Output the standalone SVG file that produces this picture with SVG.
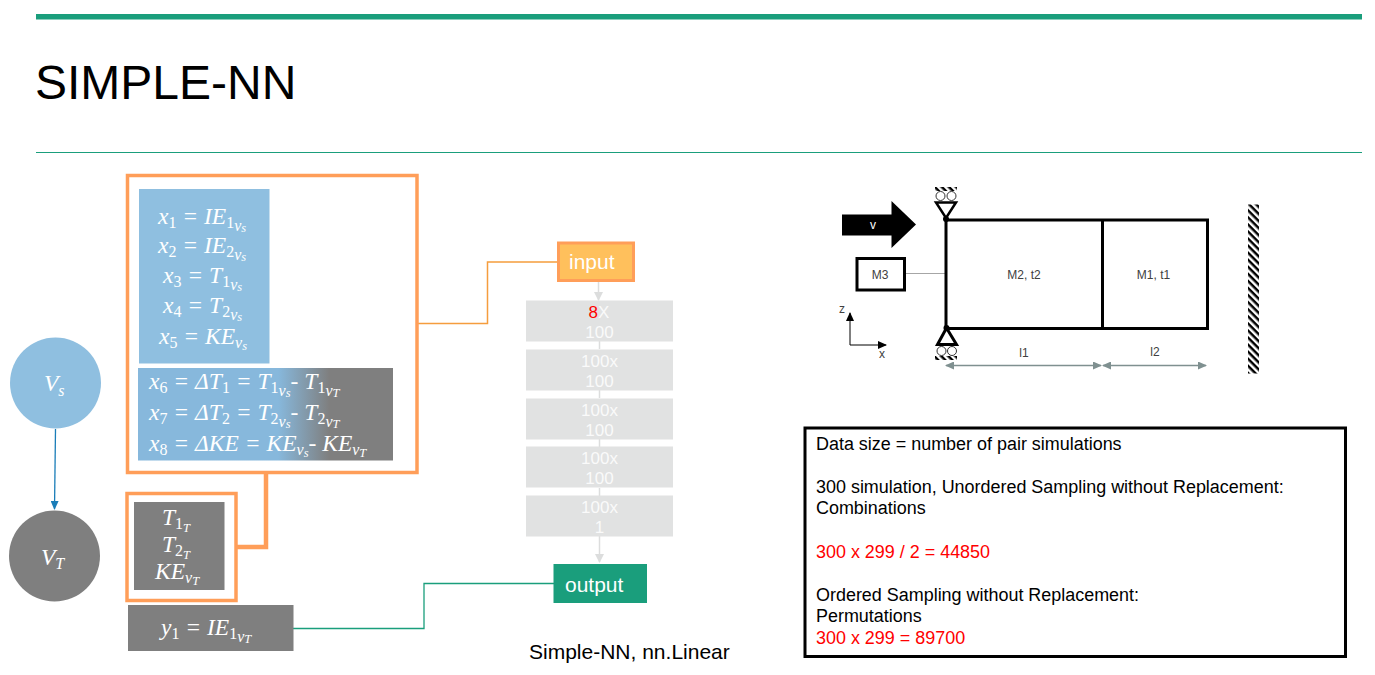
<svg xmlns="http://www.w3.org/2000/svg" width="1375" height="675" viewBox="0 0 1375 675">
<style>
text{font-family:"Liberation Sans",Arial,sans-serif}
.m{font-family:"Liberation Serif","DejaVu Serif",serif;font-style:italic;font-size:23.500px;fill:#fff}
.m tspan.u{font-style:normal}
.s{font-size:16px}
.ss{font-size:12.500px}
.or{fill:none;stroke:#ff9e59;stroke-width:3.5}
.lay{fill:#e1e2e2}
.lt{font-size:17px;fill:#fafafa;text-anchor:middle}
.d{font-size:12px;fill:#404040;text-anchor:middle}
.b{fill:none;stroke:#000;stroke-width:3}
.dim{stroke:#7f9090;stroke-width:1.5;fill:none;marker-start:url(#ds);marker-end:url(#de)}
.t{font-size:17.950px;fill:#000}
.r{fill:#f00}
</style>
<defs>
<linearGradient id="g" x1="0" x2="1" y1="0" y2="0"><stop offset=".55" stop-color="#87b8dc"/><stop offset=".75" stop-color="#7f7f7f"/></linearGradient>
<marker id="ab" markerWidth="9" markerHeight="8" refX="8" refY="4" orient="auto" markerUnits="userSpaceOnUse"><path d="M0 0L9 4L0 8z" fill="#1a7db8"/></marker>
<marker id="ag" markerWidth="9" markerHeight="9" refX="8" refY="4.500" orient="auto" markerUnits="userSpaceOnUse"><path d="M0 0L9 4.500L0 9z" fill="#dcdddd"/></marker>
<marker id="ak" markerWidth="9" markerHeight="8" refX="8" refY="4" orient="auto" markerUnits="userSpaceOnUse"><path d="M0 0L9 4L0 8z" fill="#000"/></marker>
<marker id="de" markerWidth="9" markerHeight="8" refX="8" refY="4" orient="auto" markerUnits="userSpaceOnUse"><path d="M0 0L9 4L0 8z" fill="#7f9090"/></marker>
<marker id="ds" markerWidth="9" markerHeight="8" refX="1" refY="4" orient="auto" markerUnits="userSpaceOnUse"><path d="M9 0L0 4L9 8z" fill="#7f9090"/></marker>
<pattern id="h" width="5" height="5" patternUnits="userSpaceOnUse" patternTransform="rotate(45)"><rect width="5" height="2.500" fill="#000"/></pattern>
</defs>
<g id="header">
<rect x="36" y="14" width="1326" height="5.500" fill="#1a9e7c"/>
<text x="35" y="99" font-size="48" fill="#000">SIMPLE-NN</text>
<rect x="36" y="152" width="1326" height="1" fill="#1a9e7c"/>
</g>
<g id="connectors" fill="none">
<path d="M55.500 429L54.500 509" stroke="#1a7db8" stroke-width="1.300" marker-end="url(#ab)"/>
<path d="M266 473V547H237" stroke="#ff9e59" stroke-width="4.500"/>
<path d="M417 323.500H487.500V262H558" stroke="#f59d3d" stroke-width="1.500"/>
<path d="M293 628.500H424V583.500H554" stroke="#1a9e7c" stroke-width="1.300"/>
<path d="M598.500 281V300" stroke="#dcdddd" stroke-width="1.500" marker-end="url(#ag)"/>
<path d="M599.500 341V349M599.500 390V398M599.500 439V447M599.500 488V496" stroke="#dcdddd" stroke-width="1.500"/>
<path d="M599.500 536V562" stroke="#dcdddd" stroke-width="1.500" marker-end="url(#ag)"/>
<path d="M905 273.500H945" stroke="#a6a6a6" stroke-width="1.200"/>
</g>
<g id="node-vs"><circle cx="55.500" cy="383" r="45.500" fill="#8fbfe0"/><text class="m" x="44" y="391">V<tspan class="s" dy="5">s</tspan></text></g>
<g id="node-vt"><circle cx="54.500" cy="556" r="45.500" fill="#7f7f7f"/><text class="m" x="41" y="565">V<tspan class="s" dy="4">T</tspan></text></g>
<g id="node-inputs-box"><rect class="or" x="127.500" y="175.500" width="289.500" height="297"/></g>
<g id="node-xs">
<rect x="139" y="189" width="130.500" height="174.500" fill="#8fbfe0"/>
<text class="m" x="158" y="224">x<tspan class="s u" dy="4">1</tspan><tspan dy="-4"> = IE</tspan><tspan class="s u" dy="4">1</tspan><tspan class="s" dy="3">v</tspan><tspan class="ss" dy="1">s</tspan></text>
<text class="m" x="158" y="253">x<tspan class="s u" dy="4">2</tspan><tspan dy="-4"> = IE</tspan><tspan class="s u" dy="4">2</tspan><tspan class="s" dy="3">v</tspan><tspan class="ss" dy="1">s</tspan></text>
<text class="m" x="163" y="283">x<tspan class="s u" dy="4">3</tspan><tspan dy="-4"> = T</tspan><tspan class="s u" dy="4">1</tspan><tspan class="s" dy="3">v</tspan><tspan class="ss" dy="1">s</tspan></text>
<text class="m" x="163" y="313">x<tspan class="s u" dy="4">4</tspan><tspan dy="-4"> = T</tspan><tspan class="s u" dy="4">2</tspan><tspan class="s" dy="3">v</tspan><tspan class="ss" dy="1">s</tspan></text>
<text class="m" x="159" y="344">x<tspan class="s u" dy="4">5</tspan><tspan dy="-4"> = KE</tspan><tspan class="s" dy="4">v</tspan><tspan class="ss" dy="2">s</tspan></text>
</g>
<g id="node-deltas">
<rect x="138" y="368" width="255" height="92.500" fill="url(#g)"/>
<text class="m" x="149" y="389">x<tspan class="s u" dy="4">6</tspan><tspan dy="-4"> = ΔT</tspan><tspan class="s u" dy="4">1</tspan><tspan dy="-4"> = T</tspan><tspan class="s u" dy="4">1</tspan><tspan class="s" dy="3">v</tspan><tspan class="ss" dy="1">s</tspan><tspan dy="-8">- T</tspan><tspan class="s u" dy="4">1</tspan><tspan class="s" dy="3">v</tspan><tspan class="ss" dy="1">T</tspan></text>
<text class="m" x="149" y="420">x<tspan class="s u" dy="4">7</tspan><tspan dy="-4"> = ΔT</tspan><tspan class="s u" dy="4">2</tspan><tspan dy="-4"> = T</tspan><tspan class="s u" dy="4">2</tspan><tspan class="s" dy="3">v</tspan><tspan class="ss" dy="1">s</tspan><tspan dy="-8">- T</tspan><tspan class="s u" dy="4">2</tspan><tspan class="s" dy="3">v</tspan><tspan class="ss" dy="1">T</tspan></text>
<text class="m" x="149" y="451">x<tspan class="s u" dy="4">8</tspan><tspan dy="-4"> = ΔKE = KE</tspan><tspan class="s" dy="4">v</tspan><tspan class="ss" dy="2">s</tspan><tspan dy="-6">- KE</tspan><tspan class="s" dy="4">v</tspan><tspan class="ss" dy="2">T</tspan></text>
</g>
<g id="node-targets">
<rect class="or" x="127" y="493.500" width="109" height="107"/>
<rect x="134" y="502" width="90.500" height="88" fill="#7f7f7f"/>
<text class="m" x="162" y="525">T<tspan class="s u" dy="4">1</tspan><tspan class="ss" dy="3">T</tspan></text>
<text class="m" x="162" y="552">T<tspan class="s u" dy="4">2</tspan><tspan class="ss" dy="3">T</tspan></text>
<text class="m" x="155" y="579">KE<tspan class="s" dy="4">v</tspan><tspan class="ss" dy="2">T</tspan></text>
</g>
<g id="node-y"><rect x="128" y="605" width="165.500" height="46" fill="#7f7f7f"/>
<text class="m" x="161" y="635">y<tspan class="s u" dy="4">1</tspan><tspan dy="-4"> = IE</tspan><tspan class="s u" dy="4">1</tspan><tspan class="s" dy="3">v</tspan><tspan class="ss" dy="1">T</tspan></text></g>
<g id="node-input"><rect x="558.500" y="243" width="75" height="37.500" fill="#ffc05c" stroke="#ff9e59" stroke-width="3"/><text x="569" y="269" font-size="21" fill="#fff">input</text></g>
<g id="layer-1"><rect class="lay" x="526" y="300.500" width="147" height="41"/><text class="lt" x="599" y="318"><tspan class="r">8</tspan>X</text><text class="lt" x="599.500" y="338">100</text></g>
<g id="layer-2"><rect class="lay" x="526" y="349.500" width="147" height="41"/><text class="lt" x="599.500" y="367">100x</text><text class="lt" x="599.500" y="387">100</text></g>
<g id="layer-3"><rect class="lay" x="526" y="398.500" width="147" height="41"/><text class="lt" x="599.500" y="416">100x</text><text class="lt" x="599.500" y="436">100</text></g>
<g id="layer-4"><rect class="lay" x="526" y="446.500" width="147" height="41"/><text class="lt" x="599.500" y="464">100x</text><text class="lt" x="599.500" y="484">100</text></g>
<g id="layer-5"><rect class="lay" x="526" y="495.500" width="147" height="41"/><text class="lt" x="599.500" y="513">100x</text><text class="lt" x="599.500" y="533">1</text></g>
<g id="node-output"><rect x="553.500" y="564" width="93.500" height="39" fill="#1a9e7c"/><text x="565" y="592" font-size="21" fill="#fff">output</text></g>
<text x="529" y="659" font-size="21" fill="#000">Simple-NN, nn.Linear</text>
<g id="mechanics">
<rect class="b" x="946" y="220" width="261.500" height="108.500"/>
<path class="b" d="M1102.500 220V328.500"/>
<path d="M842 214.500H891.500V201L916 224.500L891.500 248V235.500H842z" fill="#000"/>
<text x="873" y="229" font-size="12" fill="#fff" text-anchor="middle">v</text>
<rect class="b" x="857" y="258.500" width="47.500" height="31.500"/>
<text class="d" x="880" y="279">M3</text>
<text class="d" x="1024" y="279">M2, t2</text>
<text class="d" x="1153.500" y="279">M1, t1</text>
<path d="M936 202.500H956L946 218z" fill="none" stroke="#000" stroke-width="2.500"/>
<circle cx="940.500" cy="196" r="4.500" fill="none" stroke="#333" stroke-width="1"/>
<circle cx="951.500" cy="196" r="4.500" fill="none" stroke="#333" stroke-width="1"/>
<rect x="935" y="187" width="22" height="4" fill="url(#h)"/>
<path d="M937.500 344.500L946.500 328L956.500 344.500z" fill="none" stroke="#000" stroke-width="3"/>
<circle cx="946" cy="219" r="3" fill="#000"/>
<circle cx="946.500" cy="328" r="3" fill="#000"/>
<circle cx="941.500" cy="351" r="4.500" fill="none" stroke="#333" stroke-width="1"/>
<circle cx="952" cy="351" r="4.500" fill="none" stroke="#333" stroke-width="1"/>
<rect x="935" y="356" width="22" height="4" fill="url(#h)"/>
<rect x="1248" y="204.500" width="11" height="169" fill="url(#h)"/>
<path d="M850 345V313" stroke="#000" stroke-width="1" marker-end="url(#ak)"/>
<path d="M850 345H886" stroke="#000" stroke-width="1" marker-end="url(#ak)"/>
<text class="d" x="842" y="313">z</text>
<text class="d" x="882" y="358">x</text>
<path class="dim" d="M946 365.500H1101"/>
<path class="dim" d="M1103 365.500H1206"/>
<text class="d" x="1024" y="357">l1</text>
<text class="d" x="1155" y="356">l2</text>
</g>
<g id="node-data">
<rect x="805" y="428" width="540.500" height="228.500" fill="#fff" stroke="#000" stroke-width="3"/>
<text class="t" x="816" y="450">Data size = number of pair simulations</text>
<text class="t" x="816" y="493">300 simulation, Unordered Sampling without Replacement:</text>
<text class="t" x="816" y="514">Combinations</text>
<text class="t r" x="816" y="558">300 x 299 / 2 = 44850</text>
<text class="t" x="816" y="601">Ordered Sampling without Replacement:</text>
<text class="t" x="816" y="622">Permutations</text>
<text class="t r" x="816" y="644">300 x 299 = 89700</text>
</g>
</svg>
